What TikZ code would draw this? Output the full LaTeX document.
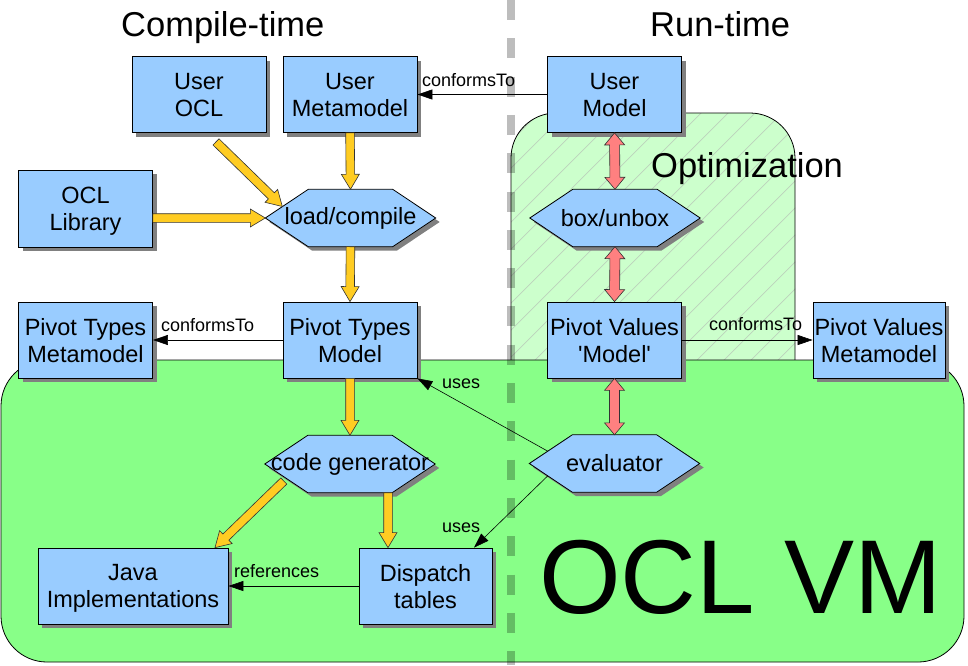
\documentclass[tikz,border=0pt]{standalone}
\usepackage{fontspec}
\setmainfont{Liberation Sans}[Ligatures=TeXOff]
\usetikzlibrary{calc,shadows,arrows.meta}
\definecolor{boxblue}{RGB}{153,204,255}
\definecolor{vmgreen}{RGB}{136,255,136}
\definecolor{optgreen}{RGB}{204,255,204}
\definecolor{hatchcol}{RGB}{188,210,188}
\definecolor{arryellow}{RGB}{255,204,34}
\definecolor{arrred}{RGB}{255,128,128}
\definecolor{shadowgray}{RGB}{128,128,128}
\tikzset{
  boxsty/.style={draw=black, line width=0.8pt, fill=boxblue, minimum width=134pt, minimum height=76pt,
    inner sep=0pt, align=center, text depth=0pt, font=\fontsize{23.5}{27}\selectfont,
    general shadow={fill=shadowgray, shadow xshift=4pt, shadow yshift=-4pt}},
  hexbb/.style={minimum width=170pt, minimum height=57pt, inner sep=0pt},
  hexsty/.style={draw=black, line width=0.8pt, fill=boxblue,
    general shadow={fill=shadowgray, shadow xshift=4pt, shadow yshift=-4pt}},
  hextext/.style={inner sep=0pt, font=\fontsize{23.5}{27}\selectfont},
  titlesty/.style={anchor=base west, inner sep=0pt, font=\fontsize{34.5}{40}\selectfont},
  lblsty/.style={anchor=base west, inner sep=0pt, font=\fontsize{18}{21}\selectfont},
  conn/.style={draw=black, line width=0.6pt, -{Triangle[length=15pt,width=10pt]}},
  yarr/.style={draw=black!80, line width=0.6pt, fill=arryellow},
  rarr/.style={draw=black!80, line width=0.6pt, fill=arrred}
}
\newcommand\hexnode[4]{%
  \node[hexbb] (#1) at (#2,-#3) {};
  \draw[hexsty] (#1.west) -- ($(#1.north west)+(43,0)$) -- ($(#1.north east)+(-43,0)$) -- (#1.east)
     -- ($(#1.south east)+(-43,0)$) -- ($(#1.south west)+(43,0)$) -- cycle;
  \node[hextext] (#1t) at (#1.center) {#4};
}
\newcommand\yarrow[2]{%
  \path[yarr] let \p1=#1, \p2=#2, \n1={atan2(\y2-\y1,\x2-\x1)}, \n2={veclen(\x2-\x1,\y2-\y1)} in
  ($(\p1)+(\n1+90:4.3pt)$) -- ($(\p1)+(\n1:\n2-15pt)+(\n1+90:4.3pt)$)
  -- ($(\p1)+(\n1:\n2-15pt)+(\n1+90:9pt)$) -- (\p2)
  -- ($(\p1)+(\n1:\n2-15pt)+(\n1-90:9pt)$) -- ($(\p1)+(\n1:\n2-15pt)+(\n1-90:4.3pt)$)
  -- ($(\p1)+(\n1-90:4.3pt)$) -- cycle;}
\newcommand\rarrow[2]{%
  \path[rarr] let \p1=#1, \p2=#2, \n1={atan2(\y2-\y1,\x2-\x1)}, \n2={veclen(\x2-\x1,\y2-\y1)} in
  (\p1) -- ($(\p1)+(\n1:12pt)+(\n1+90:10pt)$) -- ($(\p1)+(\n1:12pt)+(\n1+90:5pt)$)
  -- ($(\p1)+(\n1:\n2-12pt)+(\n1+90:5pt)$) -- ($(\p1)+(\n1:\n2-12pt)+(\n1+90:10pt)$) -- (\p2)
  -- ($(\p1)+(\n1:\n2-12pt)+(\n1-90:10pt)$) -- ($(\p1)+(\n1:\n2-12pt)+(\n1-90:5pt)$)
  -- ($(\p1)+(\n1:12pt)+(\n1-90:5pt)$) -- ($(\p1)+(\n1:12pt)+(\n1-90:10pt)$) -- cycle;}
\begin{document}
\begin{tikzpicture}[x=1pt,y=1pt]
\useasboundingbox (0,0) rectangle (968,-665);
% Optimization region
\fill[optgreen, rounded corners=45pt] (511,-400) -- (511,-113) -- (795,-113) -- (795,-400) -- cycle;
\begin{scope}
  \clip[rounded corners=45pt] (511,-400) -- (511,-113) -- (795,-113) -- (795,-400) -- cycle;
  \foreach \k in {-12,...,11} {
    \pgfmathsetmacro\cc{895+27*\k}
    \draw[hatchcol, line width=0.7pt] (\cc-100,-100) -- (\cc-700,-700);
  }
\end{scope}
\draw[line width=0.8pt, rounded corners=45pt] (511,-400) -- (511,-113) -- (795,-113) -- (795,-400);
% OCL VM region
\draw[line width=0.8pt, fill=vmgreen, rounded corners=46pt] (1,-360) rectangle (964,-662);
% separator
\draw[black, opacity=0.26, line width=8pt, dash pattern=on 20pt off 18.3pt] (511,0) -- (511,-665);
% titles
\node[titlesty] (tct) at (121,-36) {Compile-time};
\node[titlesty] (trt) at (650,-36) {Run-time};
\node[titlesty] (topt) at (651,-177) {Optimization};
\node[anchor=base west, inner sep=0pt, font=\fontsize{105}{120}\selectfont] (tvm) at (539,-613) {OCL VM};
% boxes
\node[boxsty] (uocl) at (199,-94.5) {User\\OCL};
\node[boxsty] (umm) at (350,-94.5) {User\\Metamodel};
\node[boxsty] (umodel) at (614.5,-94.5) {User\\Model};
\node[boxsty, minimum height=77pt] (ocllib) at (85.5,-208.5) {OCL\\Library};
\node[boxsty] (ptmm) at (85.5,-340) {Pivot Types\\Metamodel};
\node[boxsty] (ptm) at (350,-340) {Pivot Types\\Model};
\node[boxsty] (pvm) at (614.5,-340) {Pivot Values\\'Model'};
\node[boxsty, minimum width=132pt] (pvmm) at (879,-340) {Pivot Values\\Metamodel};
\node[boxsty, minimum width=190pt] (java) at (133,-586) {Java\\Implementations};
\node[boxsty, minimum width=133pt] (disp) at (425.5,-586) {Dispatch\\tables};
% hexagons
\hexnode{lc}{350.5}{218}{load/compile}
\hexnode{bu}{615}{218}{box/unbox}
\hexnode{cg}{350}{464}{code generator}
\hexnode{ev}{614.5}{463.5}{evaluator}
% yellow arrows
\yarrow{(umm.south)}{(lc.north)}
\yarrow{(ocllib.east |- lc.west)}{(lc.west)}
\yarrow{($(uocl.south)+(17,-9)$)}{($(lc.west)+(17,11.5)$)}
\yarrow{(lc.south)}{(ptm.north)}
\yarrow{(ptm.south)}{(cg.north)}
\coordinate (cgd) at ($(cg.south)+(38,0)$);
\yarrow{(cgd)}{(cgd |- disp.north)}
\yarrow{($(cg.west)+(19,-17)$)}{($(java.north)+(82,0)$)}
% red arrows
\rarrow{(umodel.south)}{(bu.north)}
\rarrow{(bu.south)}{(pvm.north)}
\rarrow{(pvm.south)}{(ev.north)}
% thin connectors
\draw[conn] (umodel.west) -- (umm.east);
\draw[conn] (ptm.west) -- (ptmm.east);
\draw[conn] (pvm.east) -- (pvmm.west);
\draw[conn] (disp.west) -- (disp.west -| java.east);
\draw[conn] ($(ev.west)+(18.5,12.3)$) -- (ptm.south east);
\draw[conn] ($(ev.west)+(18.5,-12.3)$) -- ($(disp.north)+(48.5,0)$);
% labels
\node[lblsty] (l1) at (422,-86) {conformsTo};
\node[lblsty] (l2) at (161,-331) {conformsTo};
\node[lblsty] (l3) at (709,-330) {conformsTo};
\node[lblsty] (l4) at (442,-388) {uses};
\node[lblsty] (l5) at (442,-532) {uses};
\node[lblsty] (l6) at (234,-577) {references};
\end{tikzpicture}
\end{document}
